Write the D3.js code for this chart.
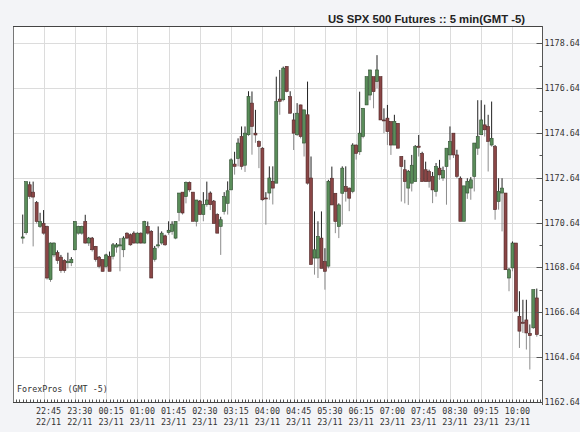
<!doctype html>
<html>
<head>
<meta charset="utf-8">
<script src="https://cdnjs.cloudflare.com/ajax/libs/d3/7.8.5/d3.min.js"></script>
<style>
  html, body { margin: 0; padding: 0; background: #f3f4f7; }
  svg { display: block; }
</style>
</head>
<body>
<svg id="chart" width="580" height="432"></svg>
<script>
// 5 minute candles, first one at 22:15 on 22/11
var firstCandle = new Date(2010, 10, 22, 22, 15)

var opens = [
  1169.95,1170.19,1172.33,1172.00,1171.53,1170.47,1170.60,1170.47,1168.10,1169.20,
  1169.30,1169.10,1168.95,1168.85,1168.85,1169.43,1170.17,1170.17,1170.69,1169.73,
  1169.95,1169.58,1169.10,1168.99,1168.69,1169.14,1169.14,1169.55,1169.60,1169.43,
  1170.17,1170.10,1170.17,1169.73,1170.17,1169.73,1170.47,1170.25,1169.00,1169.60,
  1169.73,1170.05,1170.20,1170.25,1169.95,1171.10,1172.00,1171.80,1172.43,1172.00,
  1170.70,1171.60,1171.00,1171.44,1171.96,1171.60,1171.00,1170.47,1171.14,1171.50,
  1172.10,1173.25,1173.50,1174.48,1173.20,1174.56,1175.97,1174.63,1174.26,1173.96,
  1171.74,1171.96,1172.48,1172.40,1176.15,1176.12,1177.60,1176.26,1175.22,1174.56,
  1175.89,1174.19,1175.45,1172.63,1169.06,1169.06,1169.95,1168.90,1168.70,1172.62,
  1171.95,1170.47,1171.95,1172.25,1172.18,1172.03,1174.10,1173.80,1174.48,1175.89,
  1176.33,1177.15,1176.93,1177.15,1175.22,1175.30,1175.15,1174.10,1175.07,1173.59,
  1173.00,1172.18,1172.40,1172.47,1174.05,1173.73,1173.00,1172.92,1172.70,1172.03,
  1173.07,1172.63,1173.14,1173.66,1174.63,1173.66,1172.62,1170.70,1171.96,1172.18,
  1172.70,1173.96,1174.56,1175.00,1174.93,1174.10,1174.03,1171.58,1171.96,1171.96,
  1168.17,1168.62,1169.73,1166.46,1166.20,1166.30,1165.70,1165.95,1167.28
]
var highs = [
  1171.00,1172.47,1172.47,1172.47,1171.60,1171.08,1171.20,1170.50,1169.75,1169.75,
  1169.40,1169.20,1169.00,1169.30,1169.10,1170.70,1170.50,1170.50,1170.99,1170.00,
  1170.00,1169.60,1169.15,1169.00,1169.25,1169.35,1169.73,1169.73,1169.95,1170.03,
  1170.20,1170.15,1170.25,1170.20,1170.20,1170.72,1170.69,1170.30,1169.60,1170.47,
  1170.25,1170.10,1170.70,1170.70,1170.70,1171.96,1172.00,1172.47,1172.47,1172.00,
  1171.65,1171.65,1172.00,1172.47,1172.03,1171.65,1171.05,1170.90,1172.00,1172.48,
  1173.50,1173.80,1174.40,1174.93,1174.93,1176.50,1176.49,1175.67,1174.30,1174.00,
  1172.00,1173.15,1173.15,1177.15,1177.45,1177.60,1177.62,1176.50,1175.52,1175.97,
  1175.90,1175.67,1176.93,1173.59,1171.14,1170.70,1171.14,1169.50,1172.55,1173.14,
  1171.95,1171.50,1173.15,1173.15,1172.20,1174.18,1174.12,1176.48,1175.74,1177.15,
  1177.45,1177.15,1178.11,1177.15,1175.74,1175.89,1175.15,1175.45,1175.07,1173.60,
  1173.44,1172.99,1173.66,1174.10,1174.55,1173.80,1173.36,1173.00,1172.90,1173.30,
  1173.44,1173.14,1173.96,1174.93,1174.63,1173.89,1172.70,1172.28,1172.62,1172.67,
  1174.19,1176.10,1176.10,1175.90,1175.45,1176.04,1174.10,1172.62,1172.62,1171.96,
  1168.62,1169.80,1169.73,1167.58,1167.20,1167.20,1166.10,1167.65,1167.70
]
var lows = [
  1169.70,1170.10,1171.70,1169.58,1170.60,1170.40,1170.10,1168.10,1168.00,1169.10,
  1168.80,1168.40,1168.40,1168.60,1168.70,1169.40,1170.10,1170.10,1169.70,1169.60,
  1169.35,1168.90,1168.60,1168.45,1168.60,1168.47,1169.00,1169.30,1168.47,1169.10,
  1169.90,1169.60,1169.70,1169.70,1169.70,1169.70,1170.10,1168.17,1168.90,1169.50,
  1169.65,1169.60,1170.10,1170.10,1169.90,1170.70,1171.00,1171.50,1172.00,1170.70,
  1170.47,1171.00,1170.70,1171.35,1171.20,1170.60,1170.17,1169.20,1171.00,1171.00,
  1172.10,1172.78,1173.15,1173.00,1172.90,1174.50,1173.67,1174.20,1173.07,1171.60,
  1170.55,1171.66,1171.45,1172.40,1175.45,1176.05,1176.45,1175.50,1173.88,1174.50,
  1174.40,1173.59,1172.33,1168.77,1168.32,1168.17,1168.60,1167.65,1168.60,1171.43,
  1170.17,1169.95,1170.55,1171.58,1171.15,1171.95,1173.45,1173.66,1174.40,1175.89,
  1176.10,1175.74,1176.63,1175.22,1174.63,1174.10,1173.66,1174.10,1173.96,1171.58,
  1171.50,1171.43,1172.03,1172.47,1173.59,1172.47,1172.47,1172.20,1171.51,1171.80,
  1172.55,1172.50,1171.44,1173.44,1173.52,1172.62,1170.70,1170.70,1171.70,1171.66,
  1172.03,1173.66,1174.56,1174.48,1172.92,1174.03,1170.77,1171.22,1170.25,1168.54,
  1167.58,1168.47,1166.69,1165.05,1165.72,1164.98,1164.09,1165.90,1165.55
]
var closes = [
  1170.00,1172.47,1171.81,1171.78,1170.69,1170.69,1170.17,1168.17,1169.73,1169.73,
  1168.95,1168.50,1168.50,1168.90,1169.00,1170.69,1170.47,1170.47,1169.73,1169.95,
  1169.43,1168.99,1168.69,1168.47,1169.20,1168.47,1169.65,1169.65,1169.65,1169.95,
  1169.95,1169.65,1169.73,1170.17,1169.73,1170.69,1170.17,1168.17,1169.50,1169.65,
  1170.17,1169.65,1170.30,1170.55,1170.69,1171.96,1171.07,1172.43,1172.10,1170.70,
  1171.65,1171.00,1171.44,1171.65,1171.44,1170.60,1170.17,1170.77,1171.80,1172.06,
  1173.44,1173.15,1174.19,1173.15,1174.63,1176.26,1174.93,1174.55,1174.04,1171.66,
  1171.70,1172.63,1172.18,1176.04,1176.05,1177.53,1176.49,1175.52,1174.63,1175.52,
  1174.48,1175.67,1172.40,1168.77,1169.43,1170.03,1168.60,1168.47,1172.48,1171.43,
  1170.69,1171.43,1173.07,1172.03,1171.73,1174.10,1173.73,1174.63,1175.74,1177.15,
  1177.45,1176.48,1177.45,1175.22,1175.18,1174.70,1174.10,1175.15,1173.96,1173.14,
  1172.47,1172.92,1173.20,1174.03,1174.00,1172.47,1172.47,1172.48,1172.10,1173.14,
  1172.77,1172.97,1173.96,1174.26,1173.66,1172.70,1170.70,1172.28,1172.48,1172.55,
  1174.19,1174.48,1175.22,1174.78,1174.26,1174.40,1171.22,1172.03,1172.18,1168.54,
  1168.54,1169.73,1166.69,1165.80,1166.15,1165.72,1165.60,1167.65,1165.65
]

var tickLabels = ["22:45 22/11","23:30 22/11","00:15 23/11","01:00 23/11","01:45 23/11",
  "02:30 23/11","03:15 23/11","04:00 23/11","04:45 23/11","05:30 23/11","06:15 23/11",
  "07:00 23/11","07:45 23/11","08:30 23/11","09:15 23/11","10:00 23/11"]
var priceTicks = [1162.64,1164.64,1166.64,1168.64,1170.64,1172.64,1174.64,1176.64,1178.64]
var minorPriceTicks = [1163.64,1165.64,1167.64,1169.64,1171.64,1173.64,1175.64,1177.64]

var candles = opens.map((o, i) => ({
  t: d3.timeMinute.offset(firstCandle, 5 * i),
  o: o, h: highs[i], l: lows[i], c: closes[i]
}))

var parseTick = d3.timeParse("%H:%M %d/%m/%Y")
var tickDates = tickLabels.map(s => parseTick(s + "/2010"))

var plotL = 13, plotR = 542, plotT = 26, plotB = 402

var x = d3.scaleTime()
  .domain([new Date(2010, 10, 22, 22, 1), new Date(2010, 10, 23, 10, 42, 30)])
  .range([plotL, plotR])
var y = d3.scaleLinear().domain([1162.64, 1179.41]).range([plotB, plotT])

var svg = d3.select("#chart")

svg.append("text")
  .attr("x", 525).attr("y", 23)
  .attr("text-anchor", "end")
  .style("font-family", "'Liberation Sans', Arial, sans-serif")
  .style("font-size", "11.3px").style("font-weight", "bold").style("fill", "#222")
  .text("US SPX 500 Futures :: 5 min(GMT -5)")

svg.append("rect")
  .attr("x", plotL).attr("y", plotT)
  .attr("width", plotR - plotL).attr("height", plotB - plotT)
  .style("fill", "#fff")

// grid
svg.append("g").selectAll("line").data(tickDates).enter().append("line")
  .attr("x1", d => Math.round(x(d)) + 0.5).attr("x2", d => Math.round(x(d)) + 0.5)
  .attr("y1", plotT).attr("y2", plotB)
  .style("stroke", "#dcdcdc")
svg.append("g").selectAll("line").data(priceTicks.slice(1)).enter().append("line")
  .attr("x1", plotL).attr("x2", plotR)
  .attr("y1", d => Math.round(y(d)) + 0.5).attr("y2", d => Math.round(y(d)) + 0.5)
  .style("stroke", "#dcdcdc")

// candles
var cg = svg.append("g").selectAll("g").data(candles).enter().append("g")
  .attr("transform", d => "translate(" + x(d.t) + ",0)")

cg.append("line")
  .attr("y1", d => y(d.h)).attr("y2", d => y(Math.max(d.o, d.c)))
  .style("stroke", "#222").style("stroke-width", 1)
cg.append("line")
  .attr("y1", d => y(Math.min(d.o, d.c))).attr("y2", d => y(d.l))
  .style("stroke", "#8c8c8c").style("stroke-width", 1)
cg.append("rect")
  .attr("x", -1.5).attr("width", 3)
  .attr("y", d => y(Math.max(d.o, d.c)))
  .attr("height", d => Math.max(1, y(Math.min(d.o, d.c)) - y(Math.max(d.o, d.c))))
  .style("fill", d => d.c >= d.o ? "#5a8d5a" : "#8a4646")
  .style("stroke", d => d.c >= d.o ? "#2c4a2c" : "#4a2222")
  .style("stroke-width", 0.6)

// frame
svg.append("line").attr("x1", plotL + 0.5).attr("x2", plotL + 0.5).attr("y1", plotT).attr("y2", plotB)
  .style("stroke", "#777")
svg.append("line").attr("x1", plotL).attr("x2", plotR).attr("y1", plotT + 0.5).attr("y2", plotT + 0.5)
  .style("stroke", "#444")

// right price axis
var yAxis = svg.append("g").attr("transform", "translate(" + (plotR + 0.5) + ",0)")
yAxis.append("line").attr("y1", plotT).attr("y2", plotB + 3).style("stroke", "#555")
yAxis.selectAll(".maj").data(priceTicks).enter().append("line")
  .attr("x1", -6).attr("x2", 0)
  .attr("y1", d => Math.round(y(d)) + 0.5).attr("y2", d => Math.round(y(d)) + 0.5)
  .style("stroke", "#555")
yAxis.selectAll(".min").data(minorPriceTicks).enter().append("line")
  .attr("x1", -3).attr("x2", 0)
  .attr("y1", d => Math.round(y(d)) + 0.5).attr("y2", d => Math.round(y(d)) + 0.5)
  .style("stroke", "#555")
yAxis.selectAll("text").data(priceTicks).enter().append("text")
  .attr("x", 2).attr("y", d => y(d) + 3)
  .style("font-family", "'DejaVu Sans Mono', monospace").style("font-size", "8.4px")
  .style("fill", "#333")
  .text(d => d.toFixed(2))

// bottom time axis with 5 min ruler
var xg = svg.append("g")
xg.append("line").attr("x1", plotL).attr("x2", plotR).attr("y1", plotB + 0.5).attr("y2", plotB + 0.5)
  .style("stroke", "#444")
xg.selectAll(".rule").data(d3.timeMinute.every(5).range(x.domain()[0], x.domain()[1])).enter().append("line")
  .attr("x1", d => Math.round(x(d)) + 0.5).attr("x2", d => Math.round(x(d)) + 0.5)
  .attr("y1", plotB - 2.5).attr("y2", plotB)
  .style("stroke", "#555")

var lbl = xg.selectAll(".lbl").data(tickDates).enter().append("text")
  .attr("text-anchor", "middle")
  .style("font-family", "'DejaVu Sans Mono', monospace").style("font-size", "8.4px")
  .style("fill", "#333")
lbl.append("tspan").attr("x", d => x(d) + 5).attr("y", 414).text(d => d3.timeFormat("%H:%M")(d))
lbl.append("tspan").attr("x", d => x(d) + 5).attr("y", 425).text(d => d3.timeFormat("%d/%m")(d))

svg.append("text").attr("x", 17).attr("y", 392)
  .style("font-family", "'DejaVu Sans Mono', monospace").style("font-size", "8.4px")
  .style("fill", "#333")
  .text("ForexPros (GMT -5)")
</script>
</body>
</html>
